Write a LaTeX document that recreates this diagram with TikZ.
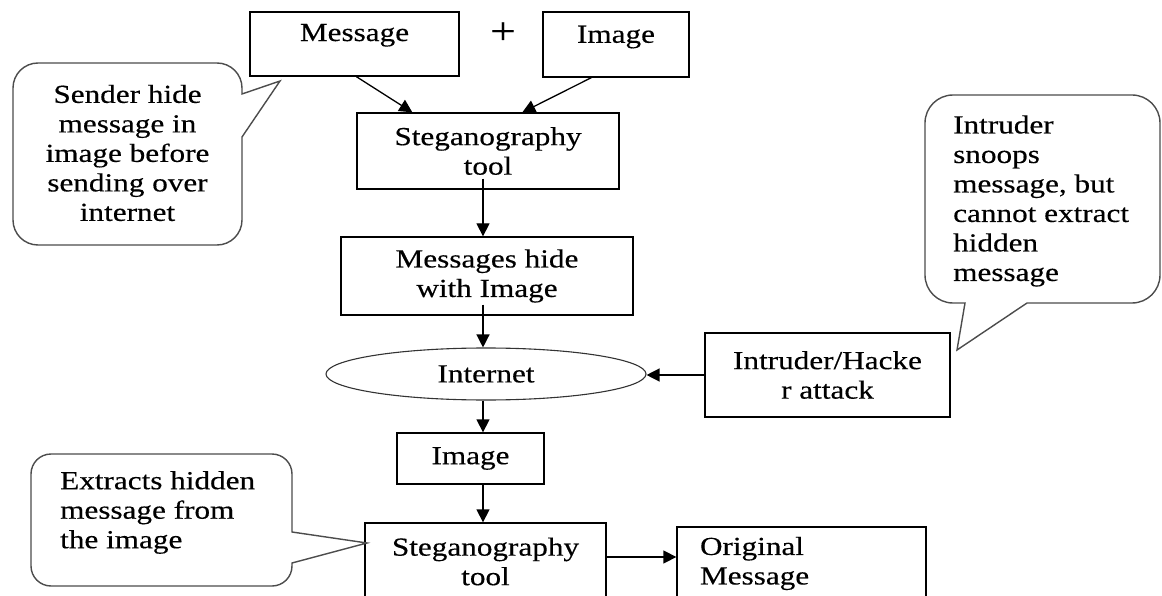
\documentclass[tikz,border=0pt]{standalone}
\usepackage{fontspec}
\setmainfont{Liberation Serif}[FakeStretch=1.2,FakeBold=0.35]
\usetikzlibrary{shapes.geometric,arrows.meta,calc}
\begin{document}
\begin{tikzpicture}[x=1pt,y=-1pt,
  every node/.style={font=\fontsize{26}{29.5}\selectfont, text=black},
  box/.style={draw, line width=1.3pt, inner sep=0pt, align=center},
  arr/.style={line width=1.3pt, -{Triangle[length=13pt,width=13pt]}},
  callout/.style={draw=black!70, line width=1.4pt},
  ctext/.style={inner sep=0pt}]
\fill[white] (0,0) rectangle (1162,596);
\useasboundingbox (0,0) rectangle (1162,596);
\clip (0,0) rectangle (1162,596);

% boxes
\node[box, minimum width=209pt, minimum height=64pt, text depth=23pt] (msg) at (354.5,44) {Message};
\node[inner sep=0pt, font=\fontsize{38}{38}\selectfont] (plus) at (503,33) {+};
\node[box, minimum width=146pt, minimum height=65pt, text depth=20.5pt] (img) at (616,44.5) {Image};
\node[box, minimum width=262pt, minimum height=76pt] (steg1) at (488,151) {Steganography\\tool};
\node[box, minimum width=292pt, minimum height=78pt] (mh) at (487,276) {Messages hide\\with Image};
\node[draw=black!80, line width=1.1pt, ellipse, minimum width=320pt, minimum height=52pt, inner sep=0pt] (inet) at (486,374) {Internet};
\node[box, minimum width=245pt, minimum height=84pt] (intr) at (827.5,375) {Intruder/Hacke\\r attack};
\node[box, minimum width=147pt, minimum height=51pt] (img2) at (470.5,458.5) {Image};
\node[box, minimum width=241pt, minimum height=77pt] (steg2) at (485.5,561.5) {Steganography\\tool};
\node[box, minimum width=249pt, minimum height=73pt, align=left, text width=203pt] (orig) at (801.5,563.5) {Original\\Message};

% callout texts
\node[ctext, align=center] (c1) at (127.5,153) {Sender hide\\message in\\image before\\sending over\\internet};
\node[ctext, align=left, anchor=west] (c2) at (953,201) {Intruder\\snoops\\message, but\\cannot extract\\hidden\\message};
\node[ctext, align=left, anchor=west] (c3) at (60,512.5) {Extracts hidden\\message from\\the image};

% callout outlines
\draw[callout] (242,137) -- (242,220) arc[start angle=0,end angle=90,radius=25]
  -- (38,245) arc[start angle=90,end angle=180,radius=25]
  -- (13,88) arc[start angle=180,end angle=270,radius=25]
  -- (217,63) arc[start angle=270,end angle=360,radius=25]
  -- (242,94) -- (280,81) -- cycle;
\draw[callout] (1027,303) -- (1132,303) arc[start angle=90,end angle=0,radius=28]
  -- (1160,123) arc[start angle=0,end angle=-90,radius=28]
  -- (953,95) arc[start angle=270,end angle=180,radius=28]
  -- (925,275) arc[start angle=180,end angle=90,radius=28]
  -- (965,303) -- (957,350) -- cycle;
\draw[callout] (292,563) -- (292,566) arc[start angle=0,end angle=90,radius=20]
  -- (51,586) arc[start angle=90,end angle=180,radius=20]
  -- (31,474) arc[start angle=180,end angle=270,radius=20]
  -- (272,454) arc[start angle=270,end angle=360,radius=20]
  -- (292,532) -- (367,543) -- cycle;

% connectors
\coordinate (axis) at (483,0);
\coordinate (harr) at (0,557);
\draw[arr] ([xshift=107pt]msg.south west) -- ([xshift=56pt]steg1.north west);
\draw[arr] ([xshift=49pt]img.south west) -- ([xshift=166pt]steg1.north west);
\draw[arr] ($(axis |- steg1.south)+(0,-11)$) -- (axis |- mh.north);
\draw[arr] ($(axis |- mh.south)+(0,-11)$) -- (axis |- inet.north);
\draw[arr] (axis |- inet.south) -- (axis |- img2.north);
\draw[arr] (axis |- img2.south) -- (axis |- steg2.north);
\draw[arr] (harr -| steg2.east) -- (harr -| orig.west);
\draw[arr] (intr.west) -- (intr.west -| inet.east);
\end{tikzpicture}
\end{document}
